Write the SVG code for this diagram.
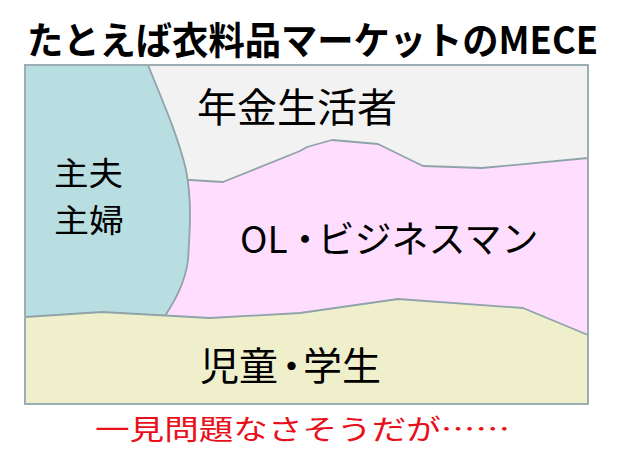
<svg xmlns="http://www.w3.org/2000/svg" width="625" height="475" viewBox="0 0 625 475">
  <style>
    .t { font-family: "Noto Sans CJK JP", "Noto Sans", sans-serif; fill: #000; }
    .edge { stroke: #8fa3a9; stroke-width: 1.8; stroke-linejoin: round; }
  </style>
  <rect x="0" y="0" width="625" height="475" fill="#ffffff"/>
  <text class="t" x="27" y="54" font-size="38" font-weight="bold" textLength="571" lengthAdjust="spacingAndGlyphs">たとえば衣料品マーケットのMECE</text>

  <g id="pensioners">
    <rect x="25" y="65" width="563" height="339" fill="#f2f2f2"/>
    <text class="t" x="197" y="122" font-size="40" textLength="200" lengthAdjust="spacingAndGlyphs">年金生活者</text>
  </g>

  <g id="office-workers">
    <path class="edge" fill="#ffddff" d="M160,180 L190,180 L223,182 L300,151 L307,147 L332,140 L378,144 L423,166 L482,168 L588,158 L588,404 L160,404 Z"/>
    <text class="t" x="240" y="253" font-size="37" dx="0 0 -1 -6">OL・ビジネスマン</text>
  </g>

  <g id="househusbands-housewives">
    <path class="edge" fill="#b8dee1" d="M25,65 L148,65 C160,95 178,135 186,170 C192,200 190,230 188,260 C185,285 172,305 165,316 L160,330 L25,330 Z"/>
    <text class="t" font-size="32"><tspan x="54" y="185" textLength="69" lengthAdjust="spacingAndGlyphs">主夫</tspan><tspan x="54" y="232" textLength="70" lengthAdjust="spacingAndGlyphs">主婦</tspan></text>
  </g>

  <g id="children-students">
    <path class="edge" fill="#efefcc" d="M25,317 L102,312 L210,318 L300,313 L398,299 L523,308 L588,335 L588,404 L25,404 Z"/>
    <text class="t" x="200" y="380" font-size="39" dx="0 0 -6 -8">児童・学生</text>
  </g>

  <g id="connectors"></g>

  <rect x="25" y="65" width="563" height="339" fill="none" stroke="#9aaeb4" stroke-width="2"/>

  <text x="95" y="440" font-family="Noto Sans CJK JP, Noto Sans, sans-serif" font-size="28" fill="#e8101a" textLength="415" lengthAdjust="spacingAndGlyphs">一見問題なさそうだが……</text>
</svg>
